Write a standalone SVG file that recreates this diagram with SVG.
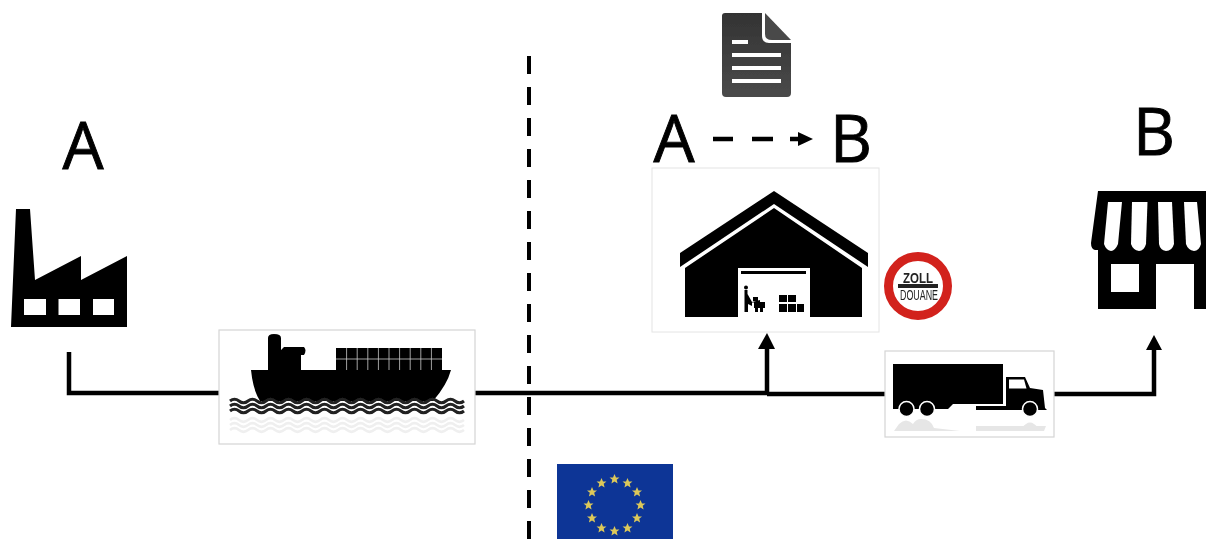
<svg xmlns="http://www.w3.org/2000/svg" width="1206" height="539" viewBox="0 0 1206 539">
<style>
.k{fill:#000}
.w{fill:#fff}
.line{fill:none;stroke:#000;stroke-width:4.5}
.letter{font-family:"Open Sans","Liberation Sans",sans-serif;font-size:65px;fill:#000;stroke:#000;stroke-width:.9}
.card{fill:#fff;stroke:#d4d4d4;stroke-width:1.2}
.wave{fill:none;stroke:#222;stroke-width:3}
.wavef{fill:none;stroke:#efefef;stroke-width:2.6}
.cl{stroke:#ccc;stroke-width:.8;fill:none}
.star{fill:#dcc85a}
.zoll{font-family:"Liberation Sans",sans-serif;fill:#222;text-anchor:middle}
#art{filter:url(#soft)}
</style>
<defs>
<filter id="soft" x="0" y="0" width="1206" height="539" filterUnits="userSpaceOnUse"><feGaussianBlur stdDeviation="0.55"/></filter>
<linearGradient id="doc" x1="0" y1="0" x2="0" y2="1"><stop offset="0" stop-color="#333"/><stop offset="1" stop-color="#4a4a4a"/></linearGradient>
<path id="s" class="star" d="M0-5 1.500-1.600 5-1.500 2.200.8 3.100 4.400 0 2.400-3.100 4.400-2.200.8-5-1.500-1.500-1.600Z"/>
<path id="wv" d="M230 0q4.500-3.600 9 0t9 0 9 0 9 0 9 0 9 0 9 0 9 0 9 0 9 0 9 0 9 0 9 0 9 0 9 0 9 0 9 0 9 0 9 0 9 0 9 0 9 0 9 0 9 0 9 0 9 0"/>
</defs>
<g id="art">
<g id="connectors">
<path class="line" d="M529 56V539" stroke-dasharray="18 13" style="stroke-width:4"/>
<path class="line" d="M69 352V393H219"/>
<path class="line" d="M475 393H767V349"/>
<path class="k" d="M767 333 775 349H758Z"/>
<path class="line" d="M767 394H885"/>
<path class="line" d="M1054 394H1154V349"/>
<path class="k" d="M1154 335 1162 350H1146Z"/>
<path class="line" d="M713 139H733M752 139H773M790 139H802"/>
<path class="k" d="M798 132 813 139 798 146Z"/>
</g>

<g id="factory">
<text class="letter" x="83" y="169" text-anchor="middle">A</text>
<path class="k" d="M16 209H30L35 280 81 256V280L127 256V327H11Z"/>
<path class="w" d="M24 299H46V315H24ZM58.500 299H80V315H58.500ZM93 299H114V315H93Z"/>
</g>

<g id="ship">
<rect class="card" x="219" y="330" width="256" height="114"/>
<path class="k" d="M251 370H268V338Q268 334 274 334 281 334 281 338V350L284 347H304Q307 350 304 355H301V370H336V348H442V370H451Q447 385 433 401H260Q253 390 251 370Z"/>
<path class="cl" d="M336 359H442M346.600 348V370M357.200 348V370M367.800 348V370M378.400 348V370M389 348V370M399.600 348V370M410.200 348V370M420.800 348V370M431.400 348V370"/>
<use href="#wv" class="wave" y="401"/><use href="#wv" class="wave" y="406"/><use href="#wv" class="wave" y="411"/>
<use href="#wv" class="wavef" y="420"/><use href="#wv" class="wavef" y="425"/><use href="#wv" class="wavef" y="430"/>
</g>

<g id="document">
<path fill="url(#doc)" d="M725 13H762V36Q762 43 769 43H791V93Q791 97 787 97H726Q722 97 722 93V16Q722 13 725 13Z"/>
<path fill="#484848" d="M765 13 791 40H772Q765 40 765 34Z"/>
<path class="w" d="M732 40H748V44H732ZM732 53H781V57H732ZM732 66H781V70H732ZM732 79H781V83H732Z"/>
</g>

<g id="warehouse">
<text class="letter" x="674" y="162" text-anchor="middle">A</text>
<text class="letter" x="851" y="162" text-anchor="middle">B</text>
<rect x="652" y="168" width="227" height="164" fill="#fff" stroke="#e4e4e4"/>
<path class="k" d="M774 191 868 253V267L774 204 680 267V253Z"/>
<path class="k" d="M774 208 862 268V317H810V268H738V317H685V268Z"/>
<path class="k" d="M741 271H806V274H741Z"/>
<path class="k" d="M744.500 290H747.500V294L752 302 760 300V302.500H752V306L748 304V312H744.500Z"/>
<circle class="k" cx="746" cy="287.500" r="2"/>
<path class="k" d="M753 297H758V301H753ZM754 302H765V308H763V312H760V308H758V312H755V308H754Z"/>
<path class="k" d="M779 295H787V302H779ZM788 295H796V302H788ZM779 304H787V312H779ZM788 304H796V312H788ZM797 304H804V312H797Z"/>
</g>

<g id="customs">
<circle cx="918" cy="286" r="29.500" fill="#fff" stroke="#d2201c" stroke-width="9"/>
<text class="zoll" x="918" y="283" font-size="15" font-weight="bold" textLength="30" lengthAdjust="spacingAndGlyphs">ZOLL</text>
<rect x="898" y="284" width="40" height="4" fill="#222"/>
<text class="zoll" x="919" y="300" font-size="14.500" textLength="38" lengthAdjust="spacingAndGlyphs">DOUANE</text>
</g>

<g id="truck">
<rect class="card" x="885" y="351" width="169" height="86"/>
<path class="k" d="M893 364H1003V404H953L948 409H893Z"/>
<path class="k" d="M1006 377H1025L1030 388 1043 390 1045 408 1047 410H976V406H1006Z"/>
<path class="w" d="M1009 379.500H1024L1026.500 388.500H1009Z"/>
<g fill="#000" stroke="#fff" stroke-width="1.500">
<circle cx="906.500" cy="409" r="7.500"/><circle cx="927" cy="409" r="7.500"/><circle cx="1030" cy="409" r="7.500"/>
</g>
<path fill="#e6e6e6" d="M894 431 899 424Q906 417 913 424 916 419 921 419 931 419 934 428L960 431ZM976 426H1046L1044 431H976ZM1022 428Q1030 417 1038 428Z"/>
</g>

<g id="store">
<text class="letter" x="1154" y="155" text-anchor="middle">B</text>
<path class="k" d="M1098 191H1206V309H1194V264H1156V309H1098V250H1095Q1091 249 1091 243Z"/>
<path class="w" d="M1111 264H1139V292H1111Z"/>
<path class="w" d="M1108 202H1122L1118 244Q1115 251 1111 251 1106 250 1104 244Z"/>
<path class="w" d="M1132 202H1147.500L1146 244Q1144 251 1139 251 1133 250 1131 244Z"/>
<path class="w" d="M1158 202H1172L1174 244Q1172 251 1166 251 1160 250 1159 244Z"/>
<path class="w" d="M1184 202H1197L1201 244Q1199 251 1194 251 1188 250 1186 244Z"/>
</g>

<g id="eu-flag">
<rect x="557" y="464" width="116" height="75" fill="#0b3596"/>
<use href="#s" x="614.500" y="479"/><use href="#s" x="627.500" y="483"/><use href="#s" x="637" y="492"/>
<use href="#s" x="640.500" y="505"/><use href="#s" x="637" y="518"/><use href="#s" x="627.500" y="528"/>
<use href="#s" x="614.500" y="531"/><use href="#s" x="601.500" y="528"/><use href="#s" x="592" y="518"/>
<use href="#s" x="588.500" y="505"/><use href="#s" x="592" y="492"/><use href="#s" x="601.500" y="483"/>
</g>
</g>
</svg>
